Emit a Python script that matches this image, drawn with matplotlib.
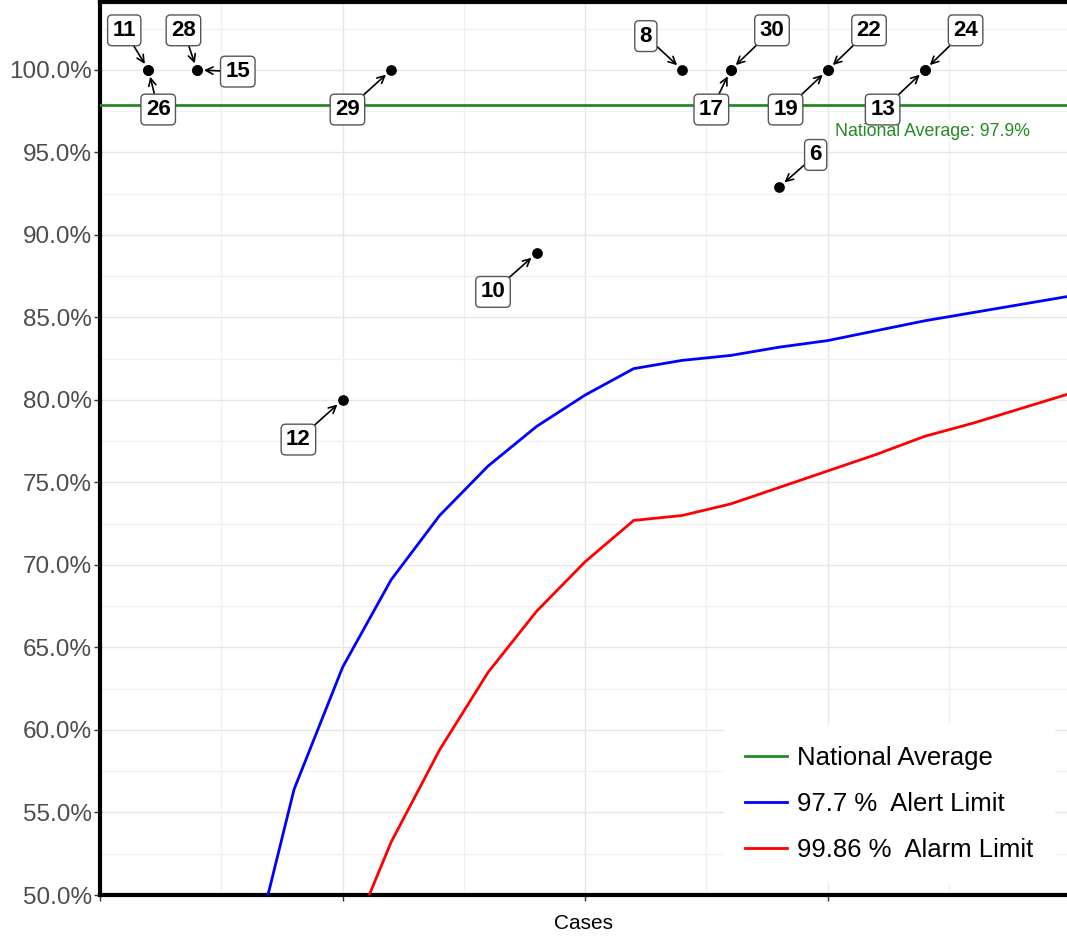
import numpy as np
import matplotlib
matplotlib.use('Agg')
import matplotlib.pyplot as plt
from matplotlib.ticker import FuncFormatter, MultipleLocator

plt.rcParams['font.family'] = ['Liberation Sans', 'DejaVu Sans']

# units: cases per unit, percentage
unidad_ids = ['11', '26', '28', '15', '12', '29', '10', '8', '17', '30', '6', '19', '22', '13', '24']
casos = [1, 1, 2, 2, 5, 6, 9, 12, 13, 13, 14, 15, 15, 17, 17]
porcentaje = [100, 100, 100, 100, 80.0, 100, 88.9, 100, 100, 100, 92.9, 100, 100, 100, 100]

# label placement (x, y) for the repelled labels
etiquetas_pos = [(0.5, 102.4), (1.2, 97.6), (1.72, 102.4), (2.84, 99.9), (4.09, 77.6),
                 (5.1, 97.6), (8.1, 86.55), (11.25, 102.05), (12.6, 97.6), (13.85, 102.4),
                 (14.75, 94.85), (14.13, 97.6), (15.85, 102.4), (16.13, 97.6), (17.84, 102.4)]

media_nacional = 97.9

alerta_n = [3, 4, 5, 6, 7, 8, 9, 10, 11, 12, 13, 14, 15, 16, 17, 18, 19, 20]
alerta_lim = [44.5, 56.4, 63.8, 69.1, 73.0, 76.0, 78.4, 80.3, 81.9, 82.4, 82.7, 83.2,
              83.6, 84.2, 84.8, 85.3, 85.8, 86.3]

alarma_n = [5, 6, 7, 8, 9, 10, 11, 12, 13, 14, 15, 16, 17, 18, 19, 20]
alarma_lim = [46.1, 53.2, 58.8, 63.5, 67.2, 70.2, 72.7, 73.0, 73.7, 74.7, 75.7, 76.7,
              77.8, 78.6, 79.5, 80.4]

fig = plt.figure(figsize=(10.67, 9.36), dpi=100)
ax = fig.add_axes([0.0937, 0.0438, 0.9063, 0.9541])

ax.axhline(media_nacional, color='#228B22', lw=2.0, label='National Average', zorder=3)
ax.plot(alerta_n, alerta_lim, color='#0000FF', lw=2.0, label='97.7 %  Alert Limit', zorder=3)
ax.plot(alarma_n, alarma_lim, color='#FF0000', lw=2.0, label='99.86 %  Alarm Limit', zorder=3)

ax.scatter(casos, porcentaje, s=45, color='black', zorder=4)

ax.text(15.14, 96.3, 'National Average: 97.9%', color='#228B22', fontsize=12.8,
        ha='left', va='center', zorder=4)

for uid, n, p, (lx, ly) in zip(unidad_ids, casos, porcentaje, etiquetas_pos):
    ax.annotate(uid, xy=(n, p), xytext=(lx, ly), ha='center', va='center',
                fontsize=16, fontweight='bold', color='black', zorder=5,
                bbox=dict(boxstyle='round,pad=0.22,rounding_size=0.2', fc='white',
                          ec='#555555', lw=1.0),
                arrowprops=dict(arrowstyle='->', color='black', lw=1.2,
                                shrinkA=0, shrinkB=5, mutation_scale=13))

ax.set_xlim(0, 19.93)
ax.set_ylim(50, 104.12)

ax.xaxis.set_major_locator(MultipleLocator(5))
ax.xaxis.set_minor_locator(MultipleLocator(2.5))
ax.yaxis.set_major_locator(MultipleLocator(5))
ax.yaxis.set_minor_locator(MultipleLocator(2.5))
ax.yaxis.set_major_formatter(FuncFormatter(lambda v, pos: '%.1f%%' % v))
ax.xaxis.set_major_formatter(FuncFormatter(lambda v, pos: ''))

ax.grid(which='major', color='#E6E6E6', lw=1.0)
ax.grid(which='minor', color='#F0F0F0', lw=0.9)
ax.set_axisbelow(True)

ax.tick_params(axis='both', which='major', length=4, width=1, color='#333333',
               labelsize=17.5, labelcolor='#4D4D4D')
ax.tick_params(axis='both', which='minor', length=0)
ax.tick_params(axis='y', pad=2)

for lado in ['left', 'top', 'bottom']:
    ax.spines[lado].set_linewidth(3)
    ax.spines[lado].set_color('black')
ax.spines['right'].set_visible(False)

ax.set_xlabel('Cases', fontsize=15, labelpad=6)

leg = ax.legend(loc='lower right', bbox_to_anchor=(1.0, 0.0), fontsize=18.5,
                frameon=True, handlelength=1.65, handletextpad=0.4, labelspacing=0.85,
                borderpad=0.8)
leg.get_frame().set_facecolor('white')
leg.get_frame().set_edgecolor('white')
leg.get_frame().set_alpha(1)

fig.savefig('out.png', dpi=100)
plt.close()
